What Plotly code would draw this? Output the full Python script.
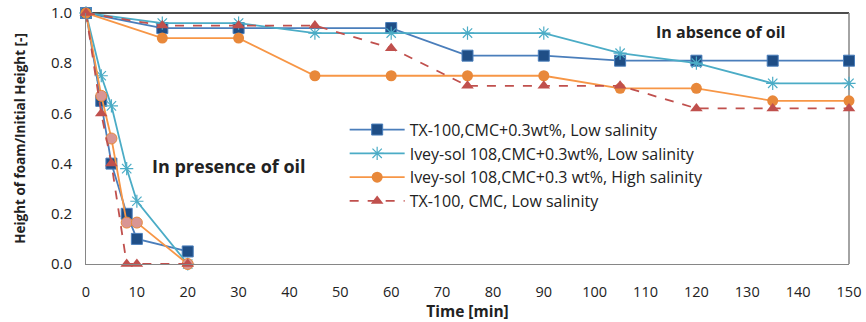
import plotly.graph_objects as go

# Absence of oil
t_abs = [0, 15, 30, 45, 60, 75, 90, 105, 120, 135, 150]
tx_abs_t = [0, 15, 30, 60, 75, 90, 105, 120, 135, 150]
tx_abs = [1.0, 0.94, 0.94, 0.94, 0.83, 0.83, 0.81, 0.81, 0.81, 0.81]
ivl_abs = [1.0, 0.96, 0.96, 0.92, 0.92, 0.92, 0.92, 0.84, 0.80, 0.72, 0.72]
ivh_abs = [1.0, 0.90, 0.90, 0.75, 0.75, 0.75, 0.75, 0.70, 0.70, 0.65, 0.65]
txc_abs = [1.0, 0.95, 0.95, 0.95, 0.86, 0.71, 0.71, 0.71, 0.62, 0.62, 0.62]

# Presence of oil
tx_oil_t = [0, 3, 5, 8, 10, 20]
tx_oil = [1.0, 0.65, 0.40, 0.20, 0.10, 0.05]
ivl_oil_t = [0, 3, 5, 8, 10, 20]
ivl_oil = [1.0, 0.75, 0.63, 0.38, 0.25, 0.0]
ivh_oil_t = [0, 3, 5, 8, 10, 20]
ivh_oil = [1.0, 0.67, 0.50, 0.165, 0.165, 0.0]
txc_oil_t = [0, 3, 5, 8, 10, 20]
txc_oil = [1.0, 0.60, 0.40, 0.0, 0.0, 0.0]

names = [
    "TX-100,CMC+0.3wt%, Low salinity",
    "Ivey-sol 108,CMC+0.3wt%, Low salinity",
    "Ivey-sol 108,CMC+0.3 wt%, High salinity",
    "TX-100, CMC, Low salinity",
]

FONT = "Open Sans"
fig = go.Figure()

def add(x, y, name, show, line, marker, group):
    fig.add_trace(go.Scatter(
        x=x, y=y, mode="lines+markers", name=name, showlegend=show,
        legendgroup=group, line=line, marker=marker, cliponaxis=False))

# Presence of oil traces (drawn first)
add(tx_oil_t, tx_oil, names[0], False, dict(color="#4A7EBB", width=1.8),
    dict(symbol="square", size=11, color="#1F4E86", line=dict(color="#4A7EBB", width=1)), "a")
add(ivl_oil_t, ivl_oil, names[1], False, dict(color="#4BACC6", width=1.8),
    dict(symbol="asterisk-open", size=11, color="#4BACC6", line=dict(color="#4BACC6", width=1.2)), "b")
add(ivh_oil_t, ivh_oil, names[2], False, dict(color="#F79646", width=1.8),
    dict(symbol="circle", size=11, color="#D99694", line=dict(color="#E8883A", width=1)), "c")
add(txc_oil_t, txc_oil, names[3], False, dict(color="#C0504D", width=1.8, dash="dash"),
    dict(symbol="triangle-up", size=11, color="#C0504D"), "d")

# Absence of oil traces (with legend)
add(tx_abs_t, tx_abs, names[0], True, dict(color="#4A7EBB", width=1.8),
    dict(symbol="square", size=11, color="#1F4E86", line=dict(color="#4A7EBB", width=1)), "a")
add(t_abs, ivl_abs, names[1], True, dict(color="#4BACC6", width=1.8),
    dict(symbol="asterisk-open", size=11, color="#4BACC6", line=dict(color="#4BACC6", width=1.2)), "b")
add(t_abs, ivh_abs, names[2], True, dict(color="#F79646", width=1.8),
    dict(symbol="circle", size=11, color="#E8883A"), "c")
add(t_abs, txc_abs, names[3], True, dict(color="#C0504D", width=1.8, dash="dash"),
    dict(symbol="triangle-up", size=11, color="#C0504D"), "d")

fig.update_layout(
    width=866, height=322,
    margin=dict(l=86, r=17, t=13, b=58, autoexpand=False),
    paper_bgcolor="white", plot_bgcolor="white",
    font=dict(family=FONT, size=13, color="#222"),
    legend=dict(x=0.339, y=0.603, xanchor="left", yanchor="top",
                bgcolor="rgba(255,255,255,0)", font=dict(size=16, family=FONT),
                tracegroupgap=0, itemwidth=55),
    xaxis=dict(range=[0, 150], dtick=10, tick0=0, showgrid=False, zeroline=False,
               showline=True, linecolor="#868686", linewidth=1, ticks="",
               tickfont=dict(size=14.5), ticklabelstandoff=15, automargin=False,
               title=dict(text="<b>Time [min]</b>", font=dict(size=15.5), standoff=2)),
    yaxis=dict(range=[0, 1.0], dtick=0.2, tickformat=".1f", showgrid=False, zeroline=False,
               showline=True, linecolor="#868686", linewidth=1, ticks="",
               tickfont=dict(size=15), ticklabelstandoff=10, automargin=False,
               title=dict(text="<b>Height of foam/Initial Height [-]</b>", font=dict(size=13.5), standoff=22)),
    annotations=[
        dict(x=0.084, y=0.39, xref="paper", yref="paper", text="<b>In presence of oil</b>",
             showarrow=False, xanchor="left", yanchor="middle", font=dict(size=18)),
        dict(x=0.745, y=0.925, xref="paper", yref="paper", text="<b>In absence of oil</b>",
             showarrow=False, xanchor="left", yanchor="middle", font=dict(size=16)),
    ],
    shapes=[
        dict(type="line", xref="paper", yref="paper", x0=0, x1=1, y0=1, y1=1,
             line=dict(color="#111", width=1.5), layer="below"),
        dict(type="line", xref="paper", yref="paper", x0=1, x1=1, y0=0, y1=1,
             line=dict(color="#868686", width=1.5), layer="below"),
    ],
)

fig.write_html("out.html")
